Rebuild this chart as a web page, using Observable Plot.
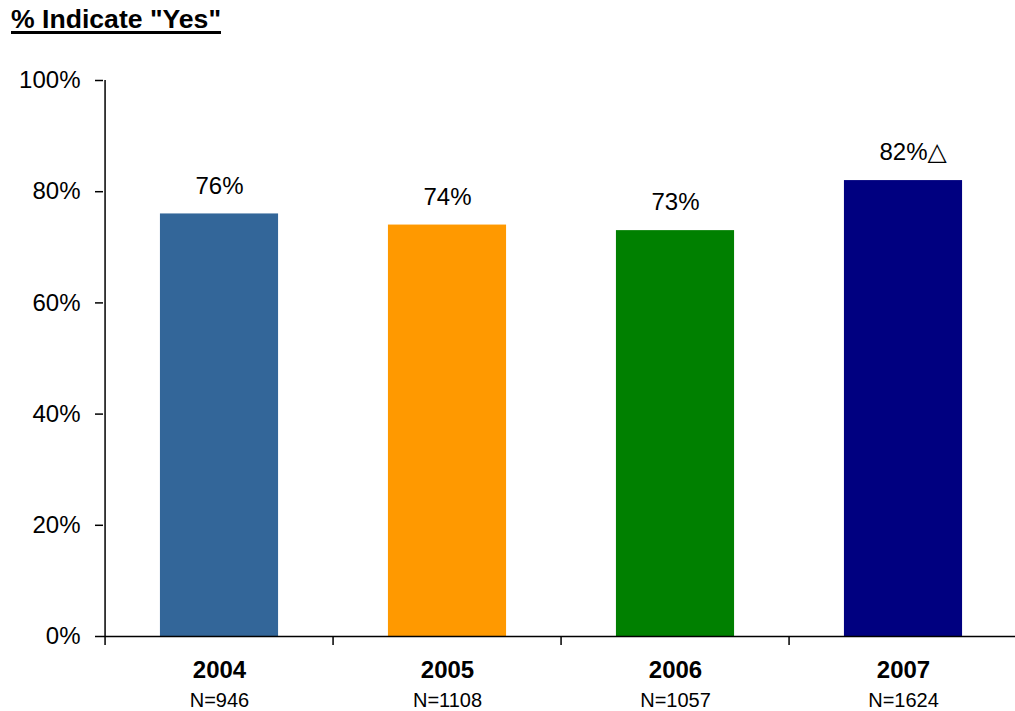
<!DOCTYPE html>
<html>
<head>
<meta charset="utf-8">
<script src="https://cdn.jsdelivr.net/npm/d3@7"></script>
<script src="https://cdn.jsdelivr.net/npm/@observablehq/plot@0.6"></script>
<style>
  body { margin: 0; background: #fff; font-family: "Liberation Sans", Arial, sans-serif; }
  #wrap { position: relative; width: 1015px; height: 711px; }
  #wrap svg { position: absolute; left: 0; top: 0; }
  #title {
    position: absolute; left: 11px; top: 4px; z-index: 2;
    font-weight: bold; font-size: 26.6px; color: #000;
    text-decoration: underline; text-decoration-thickness: 3px; text-underline-offset: 3px;
  }
</style>
</head>
<body>
<div id="wrap"><div id="title">% Indicate "Yes"</div></div>
<script>
// Survey share answering "Yes", by year
const years = ["2004", "2005", "2006", "2007"];
const yesPct = [76, 74, 73, 82];
const sampleN = [946, 1108, 1057, 1624];
const barColors = ["#336699", "#FF9900", "#008000", "#000080"];
const significant = [false, false, false, true];
const yTicks = [0, 20, 40, 60, 80, 100];

const data = years.map((year, i) => ({ year, pct: yesPct[i], n: sampleN[i], sig: significant[i] }));

const xStart = 103, xEnd = 1018.5;
const band = (xEnd - xStart) / years.length;
const barWidth = 119;
const inset = (band - barWidth) / 2;

const chart = Plot.plot({
  width: 1015,
  height: 711,
  marginTop: 80,
  marginBottom: 75,
  marginLeft: 103,
  marginRight: 0,
  style: { fontFamily: '"Liberation Sans", Arial, sans-serif', color: "#000", background: "transparent" },
  x: { domain: years, range: [xStart, xEnd], padding: 0 },
  y: { domain: [0, 100] },
  color: { domain: years, range: barColors },
  marks: [
    Plot.barY(data, { x: "year", y: "pct", fill: "year", insetLeft: inset, insetRight: inset }),
    // baseline
    Plot.ruleY([0], { stroke: "#000", strokeWidth: 1.5 }),
    // category boundary ticks, the first one doubling as the y axis line
    Plot.ruleX(years, {
      x: d => d, dx: -band / 2, y1: -1.6, y2: d => (d === years[0] ? 100 : 0),
      stroke: "#000", strokeWidth: 1.5
    }),
    Plot.axisY({
      ticks: yTicks, tickSize: 8, tickPadding: 15, fontSize: 24, strokeWidth: 1.5,
      tickFormat: d => d + "%", label: null
    }),
    Plot.axisX({ tickSize: 0, tickPadding: 24, fontSize: 24, fontWeight: "bold", label: null }),
    Plot.axisX({
      tickSize: 0, tickPadding: 56, fontSize: 20, label: null,
      tickFormat: d => "N=" + sampleN[years.indexOf(d)]
    }),
    // value labels
    Plot.text(data, { x: "year", y: "pct", text: d => d.pct + "%", dy: -28, fontSize: 24, fill: "#000" }),
    // significance marker
    Plot.text(data.filter(d => d.sig), {
      x: "year", y: "pct", text: () => "\u25B3", textAnchor: "start", dx: 24, dy: -29,
      fontSize: 25, fontFamily: '"DejaVu Sans", sans-serif', fill: "#000"
    })
  ]
});

document.getElementById("wrap").appendChild(chart);
</script>
</body>
</html>
